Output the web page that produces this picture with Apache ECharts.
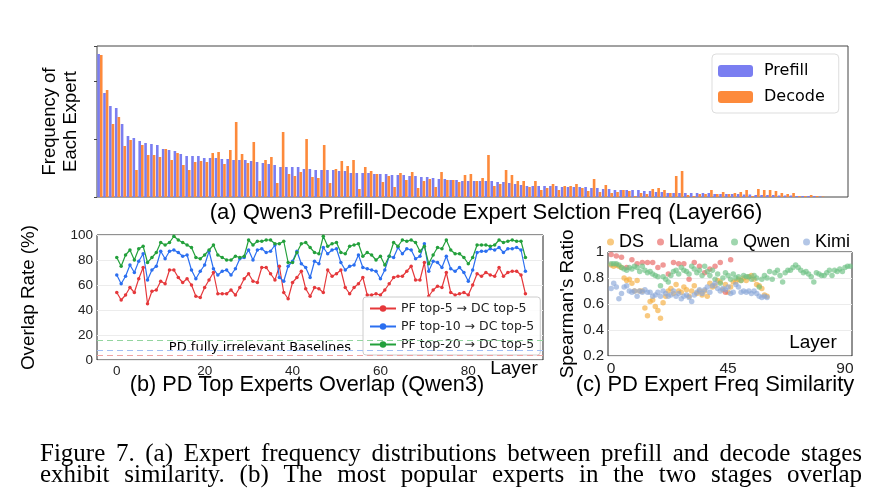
<!DOCTYPE html>
<html>
<head>
<meta charset="utf-8">
<script src="https://cdn.jsdelivr.net/npm/echarts@6/dist/echarts.min.js"></script>
<style>
  html, body { margin: 0; padding: 0; background: #fff; }
  #main { width: 882px; height: 490px; }
</style>
</head>
<body>
<div id="main"></div>
<script>
var chartDom = document.getElementById('main');
var myChart = echarts.init(chartDom, null, { renderer: 'canvas' });

// (a) expert selection frequency, experts sorted by prefill frequency
var prefillFreq = [
  143, 104, 91, 89, 73, 61, 59, 56, 54, 53, 52, 48, 47, 46, 43, 41, 41, 41, 39, 39, 39, 38,
  38, 37, 37, 37, 36, 35, 34, 33, 32, 30, 30, 30, 30, 28, 28, 27, 27, 27, 27, 26, 26,
  24, 24, 24, 24, 23, 23, 23, 22, 22, 22, 21, 21, 20, 20, 19, 18, 18, 17, 17, 16, 16,
  16, 16, 16, 16, 15, 15, 14, 13, 12, 11, 11, 11, 11, 11, 11, 10, 10, 10, 10, 10, 9, 9,
  8, 8, 7, 7, 7, 7, 7, 6, 6, 5, 5, 4, 4, 4, 4, 4, 4, 4, 4, 3,
  3, 3, 3, 3, 2.5, 2.5, 2, 2, 2, 2, 1.5, 1.5, 1.5, 1, 1, 1, 1, 0.5, 0, 0, 0, 0
];
var decodeFreq = [
  142, 107, 73, 80, 51, 57, 27, 52, 42, 42, 40, 48, 37, 44, 32, 27, 35, 36, 35, 44, 45, 33,
  47, 75, 43, 34, 55, 16, 37, 40, 14, 65, 23, 21, 25, 58, 20, 19, 52, 14, 28, 36, 31,
  37, 8, 30, 26, 23, 15, 21, 10, 24, 17, 25, 9, 16, 18, 10, 25, 17, 17, 15, 22, 23,
  16, 19, 42, 11, 13, 27, 22, 16, 16, 10, 16, 7, 9, 13, 7, 11, 11, 13, 9, 6, 18, 5,
  12, 4, 5, 7, 6, 1, 4, 3, 8, 9, 7, 4, 21, 26, 2, 1, 3, 3, 7, 3,
  5, 3, 4, 5, 7, 1, 8, 7, 7, 6, 4, 3, 4, 1, 1, 2, 1, 0.5, 0, 0, 0, 0
];
var experts = prefillFreq.map(function (v, i) { return 'E' + i; });

// (b) overlap rate (%) per layer
var overlapTop5 = [
  54, 48, 52, 58, 54, 65, 74, 45, 55, 56, 63, 61, 72, 72, 66, 62, 65, 60, 51, 50,
  58, 64, 70, 53, 53, 53, 56, 52, 58, 65, 69, 63, 62, 74, 74, 69, 64, 75, 54, 49,
  62, 66, 71, 57, 51, 58, 57, 54, 72, 67, 69, 72, 58, 53, 58, 61, 66, 52, 52, 53,
  52, 56, 61, 66, 67, 67, 71, 75, 64, 64, 78, 51, 56, 59, 58, 70, 54, 52, 53, 54,
  52, 60, 69, 67, 70, 68, 67, 74, 67, 70, 71, 71, 68, 53
];
var overlapTop10 = [
  68, 61, 67, 76, 70, 79, 85, 64, 72, 75, 87, 81, 87, 88, 86, 83, 84, 72, 65, 71,
  76, 87, 73, 68, 71, 72, 68, 73, 81, 82, 88, 80, 88, 89, 86, 87, 92, 66, 63, 75,
  79, 87, 77, 74, 66, 79, 77, 90, 85, 88, 89, 78, 72, 75, 76, 84, 74, 73, 72, 71,
  65, 72, 83, 82, 90, 85, 89, 88, 81, 83, 93, 71, 79, 78, 74, 83, 73, 71, 74, 70,
  63, 72, 86, 87, 87, 89, 88, 90, 86, 89, 89, 90, 88, 71
];
var overlapTop20 = [
  82, 75, 84, 88, 80, 89, 91, 78, 82, 86, 94, 92, 94, 99, 96, 94, 92, 90, 82, 81,
  84, 88, 92, 84, 82, 80, 80, 83, 82, 83, 96, 92, 95, 95, 96, 96, 93, 93, 95, 78,
  78, 86, 93, 94, 90, 86, 85, 99, 91, 93, 94, 86, 85, 91, 92, 93, 83, 86, 84, 80,
  83, 76, 83, 94, 91, 96, 95, 96, 94, 87, 91, 77, 84, 90, 89, 96, 88, 85, 85, 82,
  77, 82, 92, 92, 92, 91, 92, 96, 94, 95, 96, 95, 95, 82
];
var baselines = [3.9, 7.8, 15.6];

// (c) Spearman's ratio per layer
var dsRatio = [
  0.90, 0.89, 0.90, 0.89, 0.88, 0.80, 0.78, 0.79, 0.76, 0.70, 0.78, 0.70, 0.70, 0.57, 0.51,
  0.62, 0.63, 0.58, 0.55, 0.49, 0.61, 0.66, 0.70, 0.72, 0.68, 0.75, 0.70, 0.69, 0.73, 0.71,
  0.66, 0.70, 0.74, 0.68, 0.70, 0.67, 0.70, 0.66, 0.76, 0.73, 0.74, 0.78, 0.77, 0.71, 0.75,
  0.69, 0.73, 0.77, 0.77, 0.79, 0.78, 0.80, 0.78, 0.81, 0.82, 0.79, 0.75, 0.74, 0.72, 0.67, 0.66
];
var llamaRatio = [
  0.98, 0.97, 0.96, 0.88, 0.94, 0.91, 0.92, 0.92, 0.92, 0.88, 0.90, 0.83,
  0.92, 0.91, 0.91, 0.79, 0.92, 0.89, 0.84, 0.87, 0.89, 0.92, 0.69, 0.94
];
var qwenRatio = [
  0.91, 0.91, 0.91, 0.90, 0.88, 0.87, 0.86, 0.88, 0.87, 0.89, 0.88, 0.85, 0.89, 0.86, 0.84,
  0.85, 0.83, 0.82, 0.81, 0.74, 0.81, 0.79, 0.77, 0.82, 0.85, 0.86, 0.83, 0.88, 0.86, 0.85,
  0.83, 0.89, 0.87, 0.84, 0.86, 0.82, 0.89, 0.85, 0.82, 0.86, 0.79, 0.83, 0.76, 0.80, 0.84,
  0.82, 0.79, 0.83, 0.80, 0.81, 0.78, 0.82, 0.81, 0.81, 0.79, 0.82, 0.80, 0.73, 0.79, 0.82,
  0.80, 0.85, 0.79, 0.84, 0.86, 0.82, 0.77, 0.84, 0.86, 0.86, 0.88, 0.90, 0.88, 0.86, 0.84,
  0.85, 0.83, 0.81, 0.77, 0.84, 0.83, 0.82, 0.82, 0.84, 0.86, 0.82, 0.86, 0.85, 0.87, 0.85,
  0.88, 0.89, 0.89, 0.89
];
var kimiRatio = [
  0.72, 0.76, 0.73, 0.64, 0.68, 0.73, 0.74, 0.70, 0.69, 0.70, 0.66, 0.70, 0.69, 0.71, 0.69,
  0.69, 0.66, 0.67, 0.69, 0.66, 0.70, 0.68, 0.66, 0.67, 0.70, 0.66, 0.68, 0.64, 0.66, 0.67,
  0.65, 0.62, 0.67, 0.69, 0.71, 0.68, 0.71, 0.73, 0.69, 0.74, 0.76, 0.72, 0.70, 0.72, 0.71,
  0.73, 0.68, 0.69, 0.75, 0.73, 0.69, 0.70, 0.69, 0.70, 0.68, 0.70, 0.68, 0.66, 0.65, 0.66, 0.65
];

function byLayer(arr, step) {
  return arr.map(function (v, i) { return [i * (step || 1), v]; });
}

var FONT = 'DejaVu Sans';
var SANS = 'Liberation Sans';
var lineColors = ['#e5383b', '#2b6ff0', '#23a03b'];
var dashColors = ['#f0a3a3', '#a3bff5', '#93d59f'];
var lineNames = ['PF top-5 \u2192 DC top-5', 'PF top-10 \u2192 DC top-5', 'PF top-20 \u2192 DC top-5'];
var lineData = [overlapTop5, overlapTop10, overlapTop20];

// caption, justified word by word like the paper text (narrow Times look)
var ctx = document.createElement('canvas').getContext('2d');
var capWidth = 822, capLeft = 40, capSize = 25;
var capLines = [
  'Figure 7.  (a) Expert frequency distributions between prefill and decode stages',
  'exhibit similarity. (b) The most popular experts in the two stages overlap'
];
ctx.font = capSize + 'px "Liberation Serif"';
var capScale = Math.min(1, capWidth / ctx.measureText(capLines[0]).width);

function justify(line, y) {
  var words = line.split(/\s+/);
  var widths = words.map(function (w) { return ctx.measureText(w).width * capScale; });
  var sum = widths.reduce(function (a, b) { return a + b; }, 0);
  var gap = (capWidth - sum) / (words.length - 1);
  var x = capLeft, els = [];
  words.forEach(function (w, i) {
    els.push({
      type: 'text', x: x, y: y, scaleX: capScale, silent: true,
      style: { text: w, fill: '#000', fontSize: capSize, fontFamily: 'Liberation Serif', verticalAlign: 'middle' }
    });
    x += widths[i] + gap;
  });
  return els;
}

function label(text, x, y, size, family) {
  return {
    type: 'text', x: x, y: y, silent: true,
    style: { text: text, fill: '#000', fontSize: size, fontFamily: family || SANS, align: 'center', verticalAlign: 'middle' }
  };
}

var graphics = [
  label('(a) Qwen3 Prefill-Decode Expert Selction Freq (Layer66)', 486, 213, 22),
  label('(b) PD Top Experts Overlap (Qwen3)', 307, 385, 21.7),
  label('(c) PD Expert Freq Similarity', 715, 385, 22),
  label('Layer', 514, 369, 19),
  label('Layer', 813, 343, 19),
  label('PD fully irrelevant Baselines', 260, 348, 13, FONT)
].concat(justify(capLines[0], 454)).concat(justify(capLines[1], 475));

var series = [
  {
    name: 'Prefill', type: 'bar', xAxisIndex: 0, yAxisIndex: 0,
    data: prefillFreq, barGap: '0%', barCategoryGap: '11%',
    itemStyle: { color: '#7a7ef1' }
  },
  {
    name: 'Decode', type: 'bar', xAxisIndex: 0, yAxisIndex: 0,
    data: decodeFreq, barGap: '0%', barCategoryGap: '11%',
    itemStyle: { color: '#fd8a3b' }
  }
];
lineData.forEach(function (d, k) {
  series.push({
    name: lineNames[k], type: 'line', xAxisIndex: 1, yAxisIndex: 1,
    data: byLayer(d), symbol: 'circle', symbolSize: 3.5, showSymbol: true,
    lineStyle: { width: 1.2, color: lineColors[k] },
    itemStyle: { color: lineColors[k] },
    markLine: {
      silent: true, symbol: 'none', label: { show: false },
      lineStyle: { type: [6, 4], width: 1.2, color: dashColors[k] },
      data: [{ yAxis: baselines[k] }]
    }
  });
});
var scatterDefs = [
  ['DS', dsRatio, 1, '#f5ac3c'],
  ['Llama', llamaRatio, 2, '#e8625f'],
  ['Qwen', qwenRatio, 1, '#6cc082'],
  ['Kimi', kimiRatio, 1, '#8aa8d8']
];
scatterDefs.forEach(function (s) {
  series.push({
    name: s[0], type: 'scatter', xAxisIndex: 2, yAxisIndex: 2,
    data: byLayer(s[1], s[2]), symbolSize: 5.5,
    itemStyle: { color: s[3], opacity: 0.65 }
  });
});

var option = {
  animation: false,
  backgroundColor: '#fff',
  textStyle: { fontFamily: FONT },
  grid: [
    { left: 97, top: 46, width: 751, height: 151, show: true, borderColor: '#444', borderWidth: 1 },
    { left: 97, top: 235, width: 446, height: 125, show: true, borderColor: '#222', borderWidth: 1 },
    { left: 608, top: 252, width: 244, height: 104, show: true, borderColor: '#222', borderWidth: 1 }
  ],
  legend: [
    {
      data: ['Prefill', 'Decode'], orient: 'vertical', left: 712, top: 54,
      itemWidth: 35, itemHeight: 12, itemGap: 10, padding: [9, 14, 8, 6],
      borderColor: '#ddd', borderWidth: 1, borderRadius: 4, backgroundColor: '#fff',
      textStyle: { fontSize: 16, fontFamily: FONT, color: '#000', padding: [0, 0, 0, 6] }
    },
    {
      data: lineNames, orient: 'vertical', left: 363, top: 297,
      itemWidth: 26, itemHeight: 8, itemGap: 5, padding: [5, 6, 4, 6],
      borderColor: '#ccc', borderWidth: 1, borderRadius: 3, backgroundColor: 'rgba(255,255,255,0.85)',
      textStyle: { fontSize: 12.5, fontFamily: FONT, color: '#222' }
    },
    {
      data: ['DS', 'Llama', 'Qwen', 'Kimi'], orient: 'horizontal', left: 602, top: 228,
      icon: 'circle', itemWidth: 7, itemHeight: 7, itemGap: 13,
      textStyle: { fontSize: 18, fontFamily: SANS, color: '#000' }
    }
  ],
  xAxis: [
    {
      type: 'category', gridIndex: 0, data: experts, boundaryGap: true,
      axisLine: { show: false }, axisTick: { show: false }, axisLabel: { show: false }
    },
    {
      type: 'value', gridIndex: 1, min: -4.5, max: 97,
      axisLine: { show: false }, splitLine: { show: false },
      axisTick: { show: false, customValues: [0, 20, 40, 60, 80] },
      axisLabel: { customValues: [0, 20, 40, 60, 80], fontSize: 13.5, fontFamily: SANS, color: '#222', margin: 4 }
    },
    {
      type: 'value', gridIndex: 2, min: -1.2, max: 92.7,
      axisLine: { show: false }, splitLine: { show: false },
      axisTick: { show: false, customValues: [0, 45, 90] },
      axisLabel: { customValues: [0, 45, 90], fontSize: 15.5, fontFamily: SANS, color: '#222', margin: 5 }
    }
  ],
  yAxis: [
    {
      type: 'value', gridIndex: 0, min: 0, max: 151, interval: 58,
      name: 'Frequency of\nEach Expert', nameLocation: 'middle', nameGap: 16,
      nameTextStyle: { fontSize: 18.5, fontFamily: SANS, color: '#000', lineHeight: 21 },
      axisLine: { show: false }, splitLine: { show: false },
      axisTick: { show: true, length: 3, lineStyle: { color: '#444' } },
      axisLabel: { show: false }
    },
    {
      type: 'value', gridIndex: 1, min: 0, max: 100, interval: 20,
      name: 'Overlap Rate (%)', nameLocation: 'middle', nameGap: 59,
      nameTextStyle: { fontSize: 18.8, fontFamily: SANS, color: '#000' },
      axisLine: { show: false }, axisTick: { show: false },
      splitLine: { show: true, lineStyle: { color: '#ececec', width: 1 } },
      axisLabel: { fontSize: 13.5, fontFamily: SANS, color: '#222', margin: 4 }
    },
    {
      type: 'value', gridIndex: 2, min: 0.2, max: 1.0, interval: 0.2,
      name: "Spearman's Ratio", nameLocation: 'middle', nameGap: 31,
      nameTextStyle: { fontSize: 18.8, fontFamily: SANS, color: '#000' },
      axisLine: { show: false }, axisTick: { show: false },
      splitLine: { show: true, lineStyle: { color: '#ececec', width: 1 } },
      axisLabel: {
        fontSize: 15, fontFamily: SANS, color: '#222', margin: 4,
        formatter: function (v) { return Math.abs(v - 1) < 1e-6 ? '1' : v.toFixed(1); }
      }
    }
  ],
  graphic: graphics,
  series: series
};

myChart.setOption(option);
</script>
</body>
</html>
